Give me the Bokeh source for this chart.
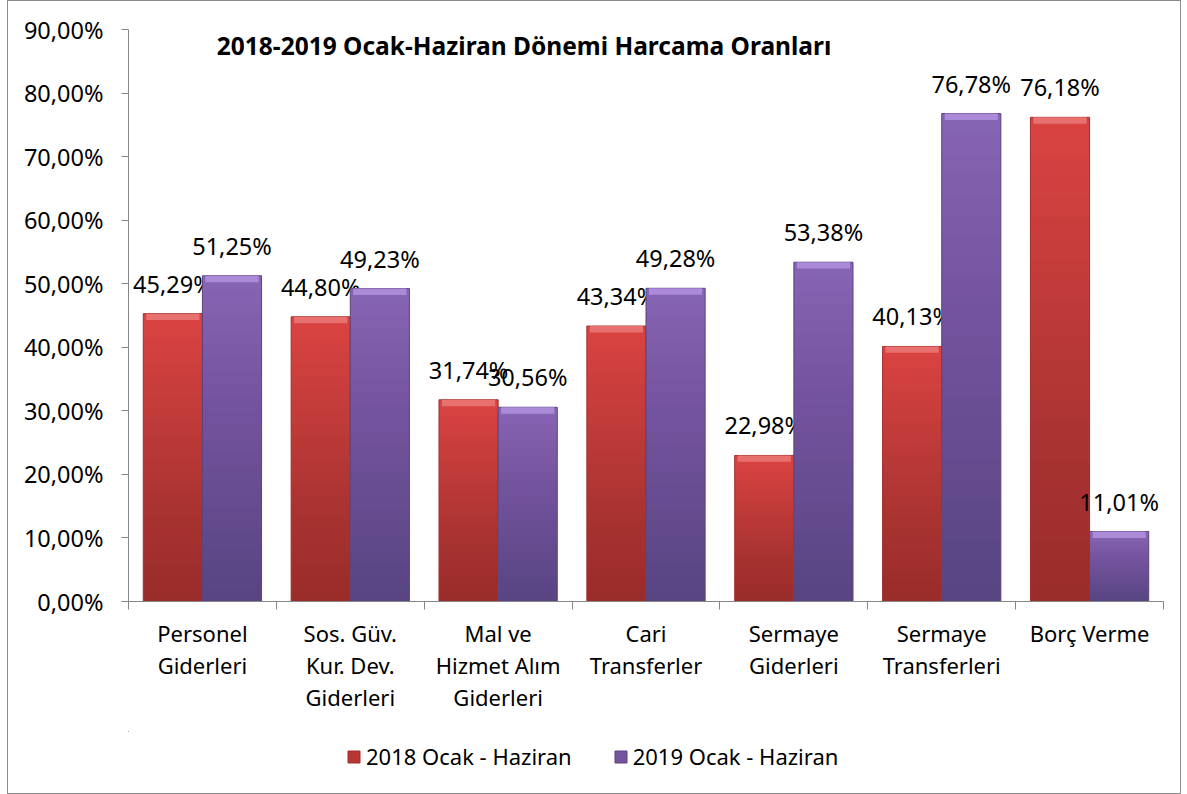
import numpy as np
from bokeh.plotting import figure
from bokeh.layouts import column
from bokeh.models import (ColumnDataSource, Range1d, FixedTicker, CustomJSTickFormatter,
                          Legend, LegendItem, Label)
from bokeh.embed import file_html
from bokeh.resources import INLINE
from bokeh.core.properties import value

categories = ["Personel\nGiderleri", "Sos. Güv.\nKur. Dev.\nGiderleri", "Mal ve\nHizmet Alım\nGiderleri",
              "Cari\nTransferler", "Sermaye\nGiderleri", "Sermaye\nTransferleri", "Borç Verme"]
series_names = ["2018 Ocak - Haziran", "2019 Ocak - Haziran"]
values_2018 = [45.29, 44.80, 31.74, 43.34, 22.98, 40.13, 76.18]
values_2019 = [51.25, 49.23, 30.56, 49.28, 53.38, 76.78, 11.01]
y_ticks = [0, 10, 20, 30, 40, 50, 60, 70, 80, 90]
title_text = "2018-2019 Ocak-Haziran Dönemi Harcama Oranları"

FONT = "Noto Sans"
RED, RED_TOP, RED_DARK, RED_LEG = "#d84341", "#e8706e", "#9e2f2e", "#b83736"
PUR, PUR_TOP, PUR_DARK, PUR_LEG = "#8664b4", "#ab8ad8", "#5c437f", "#74559f"

idx = np.arange(len(categories))
n = len(categories)

def fmt(v):
    return ("%.2f" % v).replace(".", ",") + "%"

p = figure(width=1172, height=730, output_backend="svg", toolbar_location=None,
           x_range=Range1d(0, n), y_range=Range1d(0, 90),
           min_border_left=120, min_border_right=17, min_border_top=28, min_border_bottom=130)
p.outline_line_color = None
p.xgrid.visible = False
p.ygrid.visible = False
p.background_fill_color = "white"
p.border_fill_color = "white"

NSHADE = 24
for vals, off, c, ctop, cdark in [(values_2018, 0.3, RED, RED_TOP, RED_DARK),
                                  (values_2019, 0.7, PUR, PUR_TOP, PUR_DARK)]:
    v = np.array(vals)
    src = ColumnDataSource(dict(x=idx + off, top=v, strip=v - 1.0, lbl=[fmt(a) for a in vals]))
    p.vbar(x="x", top="top", bottom=0, width=0.4, source=src, fill_color=c, line_color=None)
    # smooth darkening toward the bottom (shading)
    for j in range(1, NSHADE):
        p.vbar(x=idx + off, top=v * j / NSHADE, bottom=0, width=0.4, fill_color="black",
               fill_alpha=0.011, line_color=None)
    p.vbar(x="x", top="top", bottom=0, width=0.4, source=src, fill_color=None, line_color=cdark, line_width=1)
    p.vbar(x="x", top="top", bottom="strip", width=0.36, source=src, fill_color=ctop, line_color=None)
    p.text(x="x", y="top", text="lbl", source=src, text_align="center", text_baseline="alphabetic",
           y_offset=-30, text_font=value(FONT), text_font_size="23.5px", text_color="black")

# axes
ya = p.yaxis[0]
ya.ticker = FixedTicker(ticks=y_ticks)
ya.formatter = CustomJSTickFormatter(code="return tick.toFixed(2).replace('.', ',') + '%';")
ya.major_label_text_font = FONT
ya.major_label_text_font_size = "23.5px"
ya.major_label_text_color = "black"
ya.axis_line_color = "#868686"
ya.major_tick_line_color = "#868686"
ya.major_tick_out = 7
ya.major_tick_in = 0
ya.minor_tick_line_color = None
ya.major_label_standoff = 18

xa = p.xaxis[0]
xa.ticker = FixedTicker(ticks=list(idx + 0.5), minor_ticks=list(range(n + 1)))
xa.major_label_overrides = {float(i + 0.5): categories[i] for i in range(n)}
xa.major_label_text_font = FONT
xa.major_label_text_font_size = "22px"
xa.major_label_text_color = "black"
xa.major_label_text_line_height = 1.08
xa.axis_line_color = "#868686"
xa.major_tick_line_color = None
xa.minor_tick_line_color = "#868686"
xa.minor_tick_out = 8
xa.minor_tick_in = 0
xa.major_label_standoff = 8

title = Label(x=2.675, y=87.55, text=title_text, text_align="center", text_baseline="alphabetic",
              text_font=FONT, text_font_size="24.5px", text_font_style="bold", text_color="black")
p.add_layout(title)

# legend strip below the chart
p2 = figure(width=1172, height=62, output_backend="svg", toolbar_location=None,
            x_range=Range1d(0, 1), y_range=Range1d(0, 1),
            min_border_left=0, min_border_right=0, min_border_top=0, min_border_bottom=0)
p2.axis.visible = False
p2.grid.visible = False
p2.outline_line_color = None
p2.background_fill_color = "white"
p2.border_fill_color = "white"
r1 = p2.vbar(x=[-50], top=[50], bottom=[49], width=0.1, fill_color=RED_LEG, line_color=RED_DARK)
r2 = p2.vbar(x=[-50], top=[50], bottom=[49], width=0.1, fill_color=PUR_LEG, line_color=PUR_DARK)
legend = Legend(items=[LegendItem(label=series_names[0], renderers=[r1]),
                       LegendItem(label=series_names[1], renderers=[r2])],
                orientation="horizontal", location=(218, 22),
                label_text_font=FONT, label_text_font_size="22px", label_text_color="black",
                glyph_width=15, glyph_height=15, label_standoff=5, spacing=41,
                border_line_color=None, background_fill_alpha=0, margin=0, padding=0)
p2.add_layout(legend, "center")

layout = column(p, p2, spacing=0)
layout.styles = {"border": "1px solid #8a8a8a", "margin-left": "7px", "background": "white"}

open("out.html", "w").write(file_html(layout, INLINE))
